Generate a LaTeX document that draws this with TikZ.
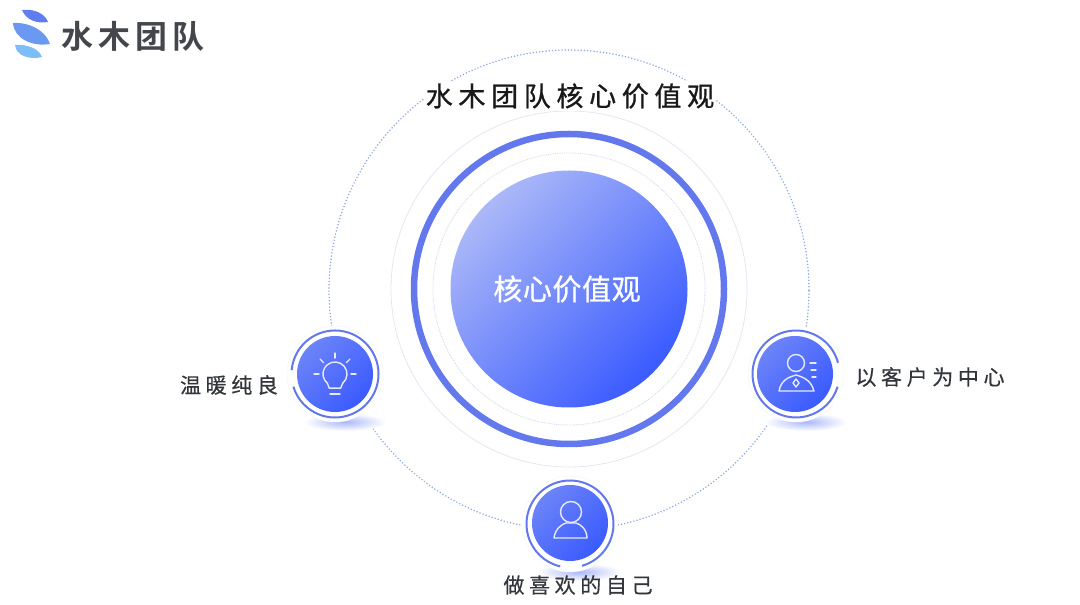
\documentclass[tikz,border=0pt]{standalone}
\usepackage{fontspec}
\newfontfamily\cjk[LetterSpace=22,FakeBold=0.5]{Noto Sans CJK SC}
\newfontfamily\cjktitle[LetterSpace=21,FakeBold=0.9]{Noto Sans CJK SC}
\newfontfamily\cjklogo[LetterSpace=16]{Noto Sans CJK SC Bold}
\newfontfamily\cjkcore[LetterSpace=2,FakeBold=0.9]{Noto Sans CJK SC}
\definecolor{ringblue}{HTML}{6478EE}
\definecolor{dotblue}{HTML}{8FA7E2}
\definecolor{thinblue}{HTML}{E3E7F4}
\definecolor{deepblue}{HTML}{3A5BFF}
\definecolor{softblue}{HTML}{ABB8F8}
\definecolor{midblue}{HTML}{5C76F8}
\definecolor{inkgray}{HTML}{33363B}
\definecolor{logogray}{HTML}{43474C}
\definecolor{logotop}{HTML}{5F7DEE}
\definecolor{logomid}{HTML}{6B99F2}
\definecolor{logolow}{HTML}{7DBDFA}
\tikzset{
    coreball/.style={circle, minimum size=237pt, inner sep=0pt, top color=softblue, middle color=midblue, bottom color=deepblue, shading angle=45, text=white},
    iconball/.style={circle, minimum size=76pt, inner sep=0pt, top color=midblue!80!softblue, bottom color=deepblue, shading angle=45},
    halo/.style={circle, minimum size=96pt, inner sep=0pt, draw=thinblue!40, fill=white},
    label/.style={text=inkgray, inner sep=0pt, font=\cjk\fontsize{21}{25}\selectfont},
    ringline/.style={draw=ringblue, line width=2pt},
    iconline/.style={draw=white!85!midblue, line width=1.4pt, line cap=round, line join=round},
    plate/.style={inner color=softblue, outer color=white},
    orbitline/.style={draw=dotblue, line width=1.7pt, line cap=round, dash pattern=on 0pt off 3.2pt},
}
\begin{document}
\begin{tikzpicture}[x=1pt, y=1pt]
    \useasboundingbox (0,0) rectangle (1080,605);
    % logo
    \fill[logotop] (22,595) .. controls (35,596.5) and (45,591) .. (48,583) .. controls (37,581) and (26,585) .. (22,595);
    \fill[logomid] (13,582) .. controls (30,583) and (46,574) .. (50,561) .. controls (33,558) and (14,566) .. (13,582);
    \fill[logolow] (15,560) .. controls (28,561) and (39,556) .. (42,548) .. controls (30,545) and (16,549) .. (15,560);
    \node at (133,569) [text=logogray, inner sep=0pt, font=\cjklogo\fontsize{32}{37}\selectfont] (Logo) {水木团队};

    % circles round the centre
    \node at (569,315) [circle, minimum size=480pt, inner sep=0pt, orbitline] (Orbit) {};
    \node at (569,316) [circle, minimum size=356pt, inner sep=0pt, draw=thinblue, line width=0.8pt] (OuterRing) {};
    \node at (569,316) [circle, minimum size=310pt, inner sep=0pt, draw=ringblue, line width=6.5pt] (ThickRing) {};
    \node at (569,316) [circle, minimum size=272pt, inner sep=0pt, draw=thinblue!70!dotblue, densely dotted, line width=0.8pt] (InnerRing) {};
    \node at (569,316) [coreball] (Core) {};
    \node at (567,316) [text=white, inner sep=0pt, font=\cjkcore\fontsize{29}{34}\selectfont] (CoreText) {核心价值观};
    \node at (570,509) [fill=white, inner sep=2pt, text=black!90, font=\cjktitle\fontsize{27}{32}\selectfont] (Title) {水木团队核心价值观};

    % plates under the icons
    \shade[plate] (345,183) ellipse (41 and 9);
    \shade[plate] (806,183) ellipse (41 and 9);
    \shade[plate] (579,33) ellipse (42 and 9);

    % warm
    \node at (335,231) [halo] (WarmHalo) {};
    \node at (335,231) [iconball] (Warm) {};
    \draw[ringline] ([shift={(197:43.5)}]Warm.center) arc (197:535:43.5);
    \draw[iconline] ([shift={(-50:12)}]Warm.center) arc (-50:230:12);
    \draw[iconline] ([shift={(-50:12)}]Warm.center) -- ++(-2,-5) -- ++(-11.4,0) -- ++(-2,5);
    \draw[iconline] ([shift={(-5,-20)}]Warm.center) -- ++(10,0);
    \foreach \a in {0,45,90,135,180}
        \draw[iconline] ([shift={(\a:16)}]Warm.center) -- ([shift={(\a:21)}]Warm.center);
    \node at (229,220) [label, anchor=center] (WarmText) {温暖纯良};

    % client
    \node at (796,231) [halo] (ClientHalo) {};
    \node at (795,231) [iconball] (Client) {};
    \draw[ringline] ([shift={(15:43.5)}]ClientHalo.center) arc (15:343:43.5);
    \draw[iconline] ([shift={(1,11)}]Client.center) circle (8.5);
    \draw[iconline] ([shift={(-16,-17)}]Client.center) .. controls ([shift={(-14,-6)}]Client.center) and ([shift={(-6,-3)}]Client.center) .. ([shift={(1,-1)}]Client.center) .. controls ([shift={(8,-3)}]Client.center) and ([shift={(16,-6)}]Client.center) .. ([shift={(19,-17)}]Client.center) -- cycle;
    \draw[iconline] ([shift={(1,-5)}]Client.center) -- ([shift={(4,-9)}]Client.center) -- ([shift={(1,-13)}]Client.center) -- ([shift={(-2,-9)}]Client.center) -- cycle;
    \draw[iconline] ([shift={(15,11)}]Client.center) -- ++(6,0);
    \draw[iconline] ([shift={(16,4)}]Client.center) -- ++(5,0);
    \draw[iconline] ([shift={(17,-3)}]Client.center) -- ++(4,0);
    \node at (930,228) [label, anchor=center] (ClientText) {以客户为中心};

    % self
    \node at (570,81) [halo] (SelfHalo) {};
    \node at (570,82) [iconball] (Self) {};
    \draw[ringline] ([shift={(286:43.5)}]SelfHalo.center) arc (286:617:43.5);
    \draw[iconline] ([shift={(1,11)}]Self.center) circle (10.5);
    \draw[iconline] ([shift={(-16,-15)}]Self.center) .. controls ([shift={(-15,-6)}]Self.center) and ([shift={(-8,-1)}]Self.center) .. ([shift={(-4,0)}]Self.center) -- ([shift={(6,0)}]Self.center) .. controls ([shift={(10,-1)}]Self.center) and ([shift={(17,-6)}]Self.center) .. ([shift={(17,-15)}]Self.center) -- cycle;
    \node at (578,20) [label, anchor=center] (SelfText) {做喜欢的自己};
\end{tikzpicture}
\end{document}
